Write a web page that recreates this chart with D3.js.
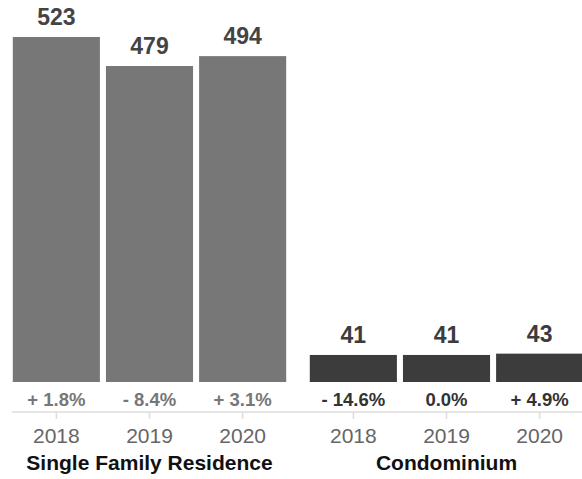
<!DOCTYPE html>
<html>
<head>
<meta charset="utf-8">
<script src="https://cdn.jsdelivr.net/npm/d3@7"></script>
<style>
  body { margin: 0; background: #fff; }
  svg { display: block; font-family: "Liberation Sans", Arial, sans-serif; }
</style>
</head>
<body>
<svg id="chart" width="582" height="479"></svg>
<script>
// data
let years = ["2018", "2019", "2020"]
let groups = ["Single Family Residence", "Condominium"]
let sfrValues = [523, 479, 494]
let sfrChange = ["+ 1.8%", "- 8.4%", "+ 3.1%"]
let condoValues = [41, 41, 43]
let condoChange = ["- 14.6%", "0.0%", "+ 4.9%"]

let svg = d3.select("#chart")
let W = 582, H = 479
let baseY = 382
let axisY = 412

let yScale = d3.scaleLinear().domain([0, 523]).range([baseY, 37])

let facets = [
  {name: groups[0], values: sfrValues, change: sfrChange, x0: 10, color: "#777777", labelColor: "#444444", pctColor: "#777777"},
  {name: groups[1], values: condoValues, change: condoChange, x0: 307, color: "#3c3c3c", labelColor: "#3c3c3c", pctColor: "#333333"}
]

// axis domain line across both facets
svg.append("line")
  .attr("x1", 12).attr("x2", W)
  .attr("y1", axisY).attr("y2", axisY)
  .attr("stroke", "#dddddd").attr("stroke-width", 1.5)

facets.forEach(function (f) {
  let xScale = d3.scaleBand().domain(years)
    .range([f.x0, f.x0 + 279])
    .paddingInner(0.065).paddingOuter(0.03)

  let g = svg.append("g")

  g.selectAll(".bar")
    .data(f.values)
    .enter()
    .append("rect")
    .attr("class", "bar")
    .attr("x", (d, i) => xScale(years[i]))
    .attr("y", d => yScale(d))
    .attr("width", xScale.bandwidth())
    .attr("height", d => baseY - yScale(d))
    .attr("fill", f.color)

  g.selectAll(".val")
    .data(f.values)
    .enter()
    .append("text")
    .attr("x", (d, i) => xScale(years[i]) + xScale.bandwidth() / 2)
    .attr("y", d => yScale(d) - 12)
    .attr("text-anchor", "middle")
    .attr("font-size", 23).attr("font-weight", "bold")
    .attr("fill", f.labelColor)
    .text(d => d)

  g.selectAll(".pct")
    .data(f.change)
    .enter()
    .append("text")
    .attr("x", (d, i) => xScale(years[i]) + xScale.bandwidth() / 2)
    .attr("y", 406)
    .attr("text-anchor", "middle")
    .attr("font-size", 18.5).attr("font-weight", "bold")
    .attr("fill", f.pctColor)
    .text(d => d)

  // x axis
  let xAxis = d3.axisBottom(xScale).tickSizeOuter(0).tickSize(7).tickPadding(9)
  let ax = g.append("g")
    .attr("transform", `translate(0,${axisY})`)
    .call(xAxis)
  ax.select(".domain").remove()
  ax.selectAll(".tick line").attr("stroke", "#dddddd").attr("stroke-width", 1.5)
  ax.selectAll(".tick text")
    .attr("font-size", 21)
    .attr("font-family", "Liberation Sans, Arial, sans-serif")
    .attr("fill", "#666666")

  // facet title
  let r = xScale.range()
  g.append("text")
    .attr("x", (r[0] + r[1]) / 2)
    .attr("y", 470)
    .attr("text-anchor", "middle")
    .attr("font-size", 21).attr("font-weight", "bold")
    .attr("fill", "#111111")
    .text(f.name)
})
</script>
</body>
</html>
